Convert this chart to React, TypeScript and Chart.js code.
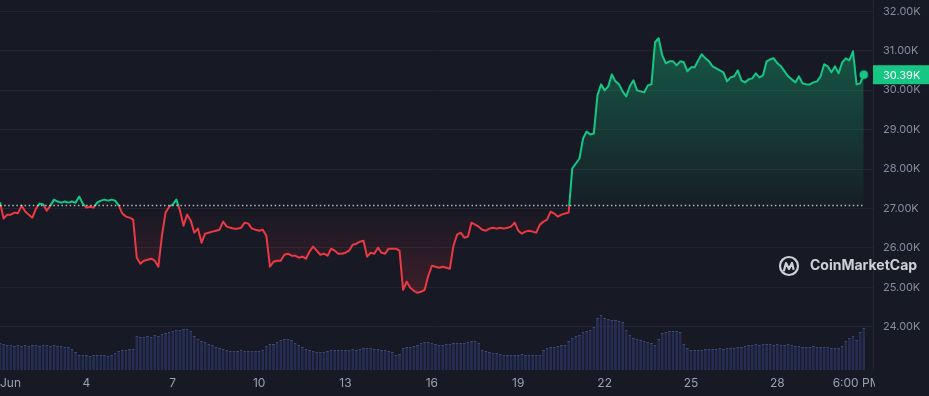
import React, { useEffect, useRef } from 'react';
import { Chart, registerables } from 'chart.js';

Chart.register(...registerables);

// ---- time grid: Jun 1 00:00, one sample every 3 hours ----
const START_DAY = 1;
const STEP_HOURS = 3;

// BTC price (USD), 3-hourly
const PRICES = [
  27160, 26742, 26843, 26843, 26894, 26880, 27072, 26920, 26843, 26767,
  26996, 27123, 27100, 26945, 27072, 27224, 27175, 27148, 27175, 27148,
  27175, 27148, 27301, 27123, 27021, 27045, 27021, 27148, 27199, 27224,
  27199, 27224, 27199, 27072, 26870, 26793, 26767, 26716, 25751, 25599,
  25675, 25700, 25726, 25675, 25522, 26310, 26894, 27045, 27100, 27224,
  26945, 26564, 26843, 26691, 26386, 26488, 26132, 26361, 26386, 26412,
  26437, 26462, 26666, 26539, 26513, 26488, 26488, 26513, 26640, 26615,
  26488, 26462, 26437, 26462, 26310, 25522, 25650, 25675, 25675, 25827,
  25853, 25802, 25802, 25751, 25777, 25726, 25904, 26031, 25929, 25827,
  25853, 25802, 25980, 25929, 25853, 25853, 25878, 25929, 26081, 26107,
  26158, 26183, 25777, 25878, 25853, 26005, 25878, 25853, 25980, 25980,
  25980, 25929, 24938, 25142, 24989, 24913, 24862, 24887, 24938, 25294,
  25548, 25522, 25497, 25522, 25497, 25472, 26056, 26335, 26386, 26259,
  26285, 26640, 26590, 26539, 26462, 26437, 26488, 26513, 26488, 26513,
  26488, 26513, 26539, 26640, 26437, 26361, 26412, 26437, 26412, 26386,
  26590, 26666, 26716, 26920, 26870, 26793, 26843, 26870, 26894, 28012,
  28139, 28266, 28774, 28951, 28876, 28901, 29866, 30145, 29993, 30095,
  30399, 30222, 30145, 29968, 29841, 30095, 30247, 29993, 29968, 29942,
  30120, 30145, 31212, 31314, 30882, 30679, 30730, 30730, 30628, 30730,
  30704, 30476, 30577, 30577, 30755, 30907, 30806, 30730, 30603, 30552,
  30501, 30450, 30222, 30323, 30349, 30501, 30247, 30196, 30272, 30298,
  30425, 30323, 30374, 30730, 30780, 30806, 30679, 30603, 30476, 30349,
  30272, 30196, 30349, 30171, 30145, 30145, 30196, 30222, 30349, 30654,
  30603, 30450, 30603, 30425, 30704, 30806, 30755, 30984, 30145, 30171,
  30390,
];

// Trading volume (billion USD), 3-hourly
const VOLUMES = [
  2.7, 2.6, 2.5, 2.5, 2.4, 2.5, 2.4, 2.5, 2.4, 2.5,
  2.5, 2.4, 2.5, 2.5, 2.4, 2.5, 2.4, 2.4, 2.3, 2.3,
  2.1, 1.8, 1.5, 1.5, 1.5, 1.4, 1.5, 1.5, 1.5, 1.5,
  1.4, 1.5, 1.7, 1.9, 2.0, 2.0, 2.1, 2.1, 3.4, 3.3,
  3.3, 3.4, 3.3, 3.5, 3.4, 3.6, 3.7, 3.8, 3.9, 4.0,
  4.0, 4.1, 4.1, 3.9, 3.4, 3.1, 2.9, 2.8, 2.6, 2.5,
  2.3, 2.2, 2.1, 2.0, 1.9, 1.9, 1.9, 2.0, 1.9, 1.9,
  1.9, 1.9, 1.9, 2.0, 2.4, 2.6, 2.6, 2.8, 3.0, 3.1,
  3.1, 3.0, 2.7, 2.5, 2.3, 2.1, 2.0, 1.9, 1.8, 1.8,
  1.8, 1.9, 2.0, 2.0, 2.0, 2.0, 2.0, 2.0, 2.1, 2.0,
  2.1, 2.2, 2.2, 2.2, 2.1, 2.1, 2.0, 2.0, 1.9, 1.8,
  1.5, 1.6, 2.2, 2.3, 2.3, 2.4, 2.5, 2.7, 2.8, 2.8,
  2.7, 2.6, 2.5, 2.5, 2.6, 2.6, 2.7, 2.7, 2.7, 2.7,
  2.8, 2.9, 2.9, 2.7, 2.0, 1.9, 1.8, 1.7, 1.7, 1.6,
  1.5, 1.5, 1.5, 1.5, 1.5, 1.6, 1.5, 1.5, 1.5, 1.5,
  1.5, 2.0, 2.2, 2.3, 2.3, 2.4, 2.5, 2.5, 2.9, 3.2,
  3.4, 3.5, 3.8, 3.9, 4.0, 4.3, 5.2, 5.5, 5.2, 5.1,
  5.0, 5.0, 4.9, 4.8, 4.0, 3.5, 3.2, 3.1, 3.0, 2.9,
  2.8, 2.7, 2.5, 3.1, 3.7, 3.8, 3.9, 3.9, 3.9, 3.8,
  2.6, 2.2, 2.0, 2.0, 2.0, 2.0, 2.1, 2.1, 2.1, 2.1,
  2.2, 2.1, 2.2, 2.2, 2.2, 2.3, 2.3, 2.4, 2.5, 2.5,
  2.6, 2.5, 2.6, 2.6, 2.6, 2.5, 2.6, 2.5, 2.5, 2.6,
  2.5, 2.4, 2.4, 2.3, 2.3, 2.3, 2.4, 2.3, 2.3, 2.3,
  2.3, 2.2, 2.2, 2.2, 2.4, 2.9, 3.2, 3.4, 3.0, 3.8,
  4.2,
];

const BASELINE = 27075; // opening price of the period (dotted line)

const X_TICK_DAYS = [1, 4, 7, 10, 13, 16, 19, 22, 25, 28, 30.75];
const X_TICK_LABELS = ['Jun', '4', '7', '10', '13', '16', '19', '22', '25', '28', '6:00 PM'];
const Y_TICKS = [24000, 25000, 26000, 27000, 28000, 29000, 30000, 31000, 32000];

const X_MIN = 1;
const X_MAX = 31.32;
const Y_MIN = 22905;
const Y_MAX = 32284;
const VOL_MAX = 37;

const GREEN = '#16c784';
const RED = '#ea3943';
const BG = '#171924';
const GRID = '#222531';

const tAt = (i: number) => START_DAY + (i * STEP_HOURS) / 24;
const fmtK = (v: number) => (v / 1000).toFixed(2) + 'K';

function strokeGradient(chart: any) {
  const { ctx, chartArea, scales } = chart;
  if (!chartArea || !scales.y) return GREEN;
  const basePx = scales.y.getPixelForValue(BASELINE);
  let f = (basePx - chartArea.top) / (chartArea.bottom - chartArea.top);
  f = Math.max(0, Math.min(0.999, f));
  const g = ctx.createLinearGradient(0, chartArea.top, 0, chartArea.bottom);
  g.addColorStop(0, GREEN);
  g.addColorStop(f, GREEN);
  g.addColorStop(f + 0.001, RED);
  g.addColorStop(1, RED);
  return g;
}

function aboveGradient(chart: any) {
  const { ctx, chartArea, scales } = chart;
  if (!chartArea || !scales.y) return 'rgba(22,199,132,0.2)';
  const basePx = scales.y.getPixelForValue(BASELINE);
  const g = ctx.createLinearGradient(0, chartArea.top, 0, basePx);
  g.addColorStop(0, 'rgba(22,199,132,0.45)');
  g.addColorStop(1, 'rgba(22,199,132,0.03)');
  return g;
}

function belowGradient(chart: any) {
  const { ctx, chartArea, scales } = chart;
  if (!chartArea || !scales.y) return 'rgba(234,57,67,0.15)';
  const basePx = scales.y.getPixelForValue(BASELINE);
  const g = ctx.createLinearGradient(0, basePx, 0, chartArea.bottom);
  g.addColorStop(0, 'rgba(234,57,67,0.0)');
  g.addColorStop(1, 'rgba(234,57,67,0.34)');
  return g;
}

const overlayPlugin = {
  id: 'cmcOverlay',
  afterDraw(chart: any) {
    const { ctx, chartArea, scales } = chart;
    const xs = scales.x;
    const ys = scales.y;

    // x-axis labels (clipped at the plot's right edge)
    ctx.save();
    ctx.beginPath();
    ctx.rect(0, chartArea.bottom, chartArea.right + 2, chart.height - chartArea.bottom);
    ctx.clip();
    ctx.font = '12px Inter, sans-serif';
    ctx.fillStyle = '#9aa0b2';
    ctx.textBaseline = 'middle';
    ctx.textAlign = 'left';
    X_TICK_DAYS.forEach((d, k) => {
      const label = X_TICK_LABELS[k];
      const px = xs.getPixelForValue(d);
      const w = ctx.measureText(label).width;
      let left = px - w / 2;
      if (left < 0) left = 0;
      ctx.fillText(label, left, chartArea.bottom + 13);
    });
    ctx.restore();

    // current price tag
    const last = PRICES[PRICES.length - 1];
    const py = ys.getPixelForValue(last);
    ctx.save();
    ctx.fillStyle = GREEN;
    ctx.fillRect(chartArea.right, py - 9.5, chart.width - chartArea.right, 19);
    ctx.fillStyle = '#ffffff';
    ctx.font = '11px Inter, sans-serif';
    ctx.textBaseline = 'middle';
    ctx.textAlign = 'left';
    ctx.fillText(fmtK(last), chartArea.right + 10, py + 0.5);
    ctx.restore();

    // watermark
    ctx.save();
    const cx = 789;
    const cy = 266;
    ctx.strokeStyle = 'rgba(225,228,235,0.9)';
    ctx.lineWidth = 2.2;
    ctx.lineCap = 'round';
    ctx.lineJoin = 'round';
    ctx.beginPath();
    ctx.arc(cx, cy, 9, 0, Math.PI * 2);
    ctx.stroke();
    ctx.beginPath();
    ctx.moveTo(cx - 5, cy + 4.5);
    ctx.lineTo(cx - 3, cy - 3);
    ctx.lineTo(cx, cy + 3);
    ctx.lineTo(cx + 3, cy - 3);
    ctx.lineTo(cx + 4.5, cy + 3);
    ctx.stroke();
    ctx.fillStyle = 'rgba(225,228,235,0.9)';
    ctx.font = 'bold 14px Inter, sans-serif';
    ctx.textBaseline = 'middle';
    ctx.textAlign = 'left';
    ctx.fillText('CoinMarketCap', 810, cy);
    ctx.restore();
  },
};

export default function App() {
  const canvasRef = useRef<HTMLCanvasElement | null>(null);

  useEffect(() => {
    if (!canvasRef.current) return;
    const lastT = tAt(PRICES.length - 1);
    const chart = new Chart(canvasRef.current, {
      type: 'line',
      data: {
        datasets: [
          {
            type: 'line',
            label: 'Open',
            data: [
              { x: X_MIN, y: BASELINE },
              { x: lastT, y: BASELINE },
            ],
            borderColor: 'rgba(235,237,242,0.75)',
            borderWidth: 1.3,
            borderDash: [1.5, 2.6],
            pointRadius: 0,
            fill: false,
            xAxisID: 'x',
            yAxisID: 'y',
          } as any,
          {
            type: 'line',
            label: 'Price',
            data: PRICES.map((p, i) => ({ x: tAt(i), y: p })),
            borderWidth: 2,
            tension: 0,
            borderJoinStyle: 'round',
            borderColor: (c: any) => strokeGradient(c.chart),
            fill: (c: any) => ({
              target: { value: BASELINE },
              above: aboveGradient(c.chart),
              below: belowGradient(c.chart),
            }),
            pointRadius: (c: any) => (c.dataIndex === PRICES.length - 1 ? 4 : 0),
            pointBackgroundColor: GREEN,
            pointBorderColor: 'rgba(22,199,132,0.35)',
            pointBorderWidth: 2,
            clip: false,
            xAxisID: 'x',
            yAxisID: 'y',
          } as any,
          {
            type: 'bar',
            label: 'Volume',
            data: VOLUMES.map((v, i) => ({ x: tAt(i), y: v })),
            backgroundColor: 'rgba(50,63,120,0.55)',
            borderColor: 'rgba(85,100,165,0.6)',
            borderWidth: { top: 1, left: 0, right: 0, bottom: 0 },
            borderSkipped: 'start',
            barPercentage: 0.8,
            categoryPercentage: 1,
            xAxisID: 'x',
            yAxisID: 'yv',
          } as any,
        ],
      },
      options: {
        animation: false,
        responsive: false,
        events: [],
        layout: { padding: 0, autoPadding: false },
        plugins: {
          legend: { display: false },
          tooltip: { enabled: false },
        },
        scales: {
          x: {
            type: 'linear',
            min: X_MIN,
            max: X_MAX,
            offset: false,
            grid: { display: false, offset: false },
            border: { display: false },
            ticks: { display: false },
            afterFit: (s: any) => {
              s.height = 26;
              s.paddingLeft = 0;
              s.paddingRight = 0;
            },
          },
          y: {
            type: 'linear',
            position: 'right',
            min: Y_MIN,
            max: Y_MAX,
            afterBuildTicks: (s: any) => {
              s.ticks = Y_TICKS.map((v) => ({ value: v }));
            },
            afterFit: (s: any) => {
              s.width = 56;
              s.paddingTop = 0;
              s.paddingBottom = 0;
            },
            grid: { color: GRID, drawTicks: false, lineWidth: 1 },
            border: { display: true, color: GRID },
            ticks: {
              padding: 10,
              color: '#858ca2',
              font: { family: 'Inter', size: 11 },
              callback: (v: any) => fmtK(Number(v)),
            },
          },
          yv: {
            type: 'linear',
            display: false,
            min: 0,
            max: VOL_MAX,
          },
        },
      } as any,
      plugins: [overlayPlugin],
    });
    return () => chart.destroy();
  }, []);

  return (
    <div
      style={{
        position: 'fixed',
        left: 0,
        top: 0,
        width: 929,
        height: 396,
        background: BG,
        overflow: 'hidden',
      }}
    >
      <canvas ref={canvasRef} width={929} height={396} style={{ display: 'block' }} />
    </div>
  );
}
